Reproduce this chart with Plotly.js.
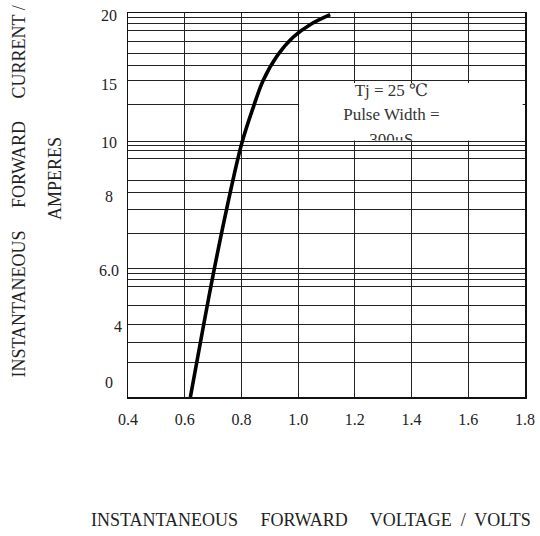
<!DOCTYPE html>
<html>
<head>
<meta charset="utf-8">
<script src="https://cdn.plot.ly/plotly-3.0.1.min.js"></script>
<style>html,body{margin:0;padding:0;background:#fff;}#chart{width:540px;height:536px;}</style>
</head>
<body>
<div id="chart"></div>
<script>
// ---- data (y in chart position units, 0..20) ----
const curveVoltage = [0.62, 0.666, 0.702, 0.748, 0.801, 0.842, 0.877, 0.925, 0.983, 1.042, 1.113];
const curveCurrent = [0.0, 3.7, 6.5, 9.8, 13.2, 15.1, 16.5, 17.75, 18.75, 19.39, 19.91];

const xTickVals = [0.4, 0.6, 0.8, 1.0, 1.2, 1.4, 1.6, 1.8];
const xTickLabels = ["0.4", "0.6", "0.8", "1.0", "1.2", "1.4", "1.6", "1.8"];

const yTickLabels = ["20", "15", "10", "8", "6.0", "4", "0"];
const yTickPos = [19.86, 16.27, 13.24, 10.43, 6.58, 3.65, 0.74];
const yTickX = [-0.048, -0.048, -0.048, -0.048, -0.048, -0.026, -0.048];

const gridPos = [19.74, 19.44, 19.08, 18.49, 17.90, 17.27, 16.50, 15.26,
                 13.31, 13.09, 12.83, 12.41, 11.27, 10.66, 9.79, 8.52,
                 6.67, 6.41, 6.14, 5.73, 4.77, 3.80, 2.86, 1.80];

const noteLines = ["Tj = 25 \u2103", "Pulse Width =", "300\u03bcS"];
const noteY = [0.849, 0.426, 0.003];

const xTitle = "INSTANTANEOUS     FORWARD     VOLTAGE  /  VOLTS";
const yTitle = "INSTANTANEOUS     FORWARD     CURRENT /";
const yTitle2 = "AMPERES";

const serif = "Liberation Serif, DejaVu Serif, serif";

const traces = [
  {
    x: curveVoltage, y: curveCurrent, type: "scatter", mode: "lines",
    line: {color: "#000", width: 3.6, shape: "spline", smoothing: 1},
    xaxis: "x", yaxis: "y", hoverinfo: "skip", showlegend: false
  },
  {
    x: noteLines.map(() => 0.413), y: noteY, text: noteLines,
    type: "scatter", mode: "text", textposition: "middle center",
    textfont: {family: serif, size: 17, color: "#333"},
    cliponaxis: true, xaxis: "x2", yaxis: "y2", hoverinfo: "skip", showlegend: false
  }
];

const annotations = yTickLabels.map((t, i) => ({
  text: t, xref: "paper", yref: "y", x: yTickX[i], y: yTickPos[i],
  xanchor: "center", yanchor: "middle", showarrow: false,
  font: {family: serif, size: 16, color: "#222"}
}));
annotations.push(
  {text: xTitle, xref: "paper", yref: "paper", x: 0.462, y: -0.320,
   xanchor: "center", yanchor: "middle", showarrow: false,
   font: {family: serif, size: 18, color: "#222"}},
  {text: yTitle, xref: "paper", yref: "paper", x: -0.2746, y: 0.535, textangle: -90,
   xanchor: "center", yanchor: "middle", showarrow: false,
   font: {family: serif, size: 18, color: "#222"}},
  {text: yTitle2, xref: "paper", yref: "paper", x: -0.184, y: 0.570, textangle: -90,
   xanchor: "center", yanchor: "middle", showarrow: false,
   font: {family: serif, size: 18, color: "#222"}}
);

const layout = {
  width: 540, height: 536,
  margin: {l: 128, r: 15, t: 13, b: 139, pad: 0},
  paper_bgcolor: "#fff", plot_bgcolor: "#fff",
  showlegend: false,
  xaxis: {
    domain: [0, 1], range: [0.4, 1.8], tickvals: xTickVals, ticktext: xTickLabels,
    showgrid: true, gridcolor: "#222", gridwidth: 1,
    showline: true, mirror: true, linecolor: "#111", linewidth: 1.5,
    zeroline: false, ticks: "", ticklabelstandoff: 7,
    tickfont: {family: serif, size: 16, color: "#222"}, fixedrange: true
  },
  yaxis: {
    domain: [0, 1], range: [0, 20], tickvals: gridPos, showticklabels: false,
    showgrid: true, gridcolor: "#222", gridwidth: 1,
    showline: true, mirror: true, linecolor: "#111", linewidth: 1.5,
    zeroline: false, ticks: "", fixedrange: true
  },
  xaxis2: {domain: [0.431, 0.994], anchor: "y2", range: [0, 1], visible: false, fixedrange: true},
  yaxis2: {domain: [0.668, 0.8177], anchor: "x2", range: [0, 1], visible: false, fixedrange: true},
  annotations: annotations
};

Plotly.newPlot("chart", traces, layout, {staticPlot: true, displayModeBar: false});
</script>
</body>
</html>
